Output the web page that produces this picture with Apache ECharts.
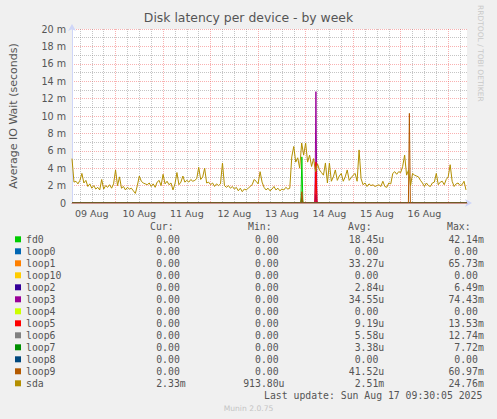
<!DOCTYPE html>
<html><head><meta charset="utf-8">
<script src="https://cdn.jsdelivr.net/npm/echarts@6/dist/echarts.min.js"></script>
<style>html,body{margin:0;padding:0;background:#f0f0f0;}#c{width:497px;height:419px;}</style>
</head><body><div id="c"></div>
<script>
// ---------- data ----------
const devices = ['fd0','loop0','loop1','loop10','loop2','loop3','loop4','loop5','loop6','loop7','loop8','loop9','sda'];
const deviceColors = ['#00CC00','#0066B3','#FF8000','#FFCC00','#330099','#990099','#CCFF00','#FF0000','#808080','#008F00','#00487D','#B35900','#B38F00'];
const curVals = ['0.00','0.00','0.00','0.00','0.00','0.00','0.00','0.00','0.00','0.00','0.00','0.00','2.33m'];
const minVals = ['0.00','0.00','0.00','0.00','0.00','0.00','0.00','0.00','0.00','0.00','0.00','0.00','913.80u'];
const avgVals = ['18.45u','0.00','33.27u','0.00','2.84u','34.55u','0.00','9.19u','5.58u','3.38u','0.00','41.52u','2.51m'];
const maxVals = ['42.14m','0.00','65.73m','0.00','6.49m','74.43m','0.00','13.53m','12.74m','7.72m','0.00','60.97m','24.76m'];

// x axis: hours relative to 10 Aug 00:00
const dayLabels = ['09 Aug','10 Aug','11 Aug','12 Aug','13 Aug','14 Aug','15 Aug','16 Aug'];
const dayLabelHours = [-12,12,36,60,84,108,132,156];
const midnightHours = [0,24,48,72,96,120,144,168];
const sixHourHours = [-18,-12,-6,6,12,18,30,36,42,54,60,66,78,84,90,102,108,114,126,132,138,150,156,162,174];
const yTickValues = [0,2,4,6,8,10,12,14,16,18,20];

// sda: hourly samples (milliseconds), starting at hour -22
const sdaStartHour = -22;
const sdaValues = [
 5.1,2.4,2.5,2.2,2.6,3.4,2.3,2.6,1.9,2.2,1.7,2.0,1.6,1.8,1.5,2.7,1.6,2.0,1.8,2.1,1.7,2.2,
 3.8,2.0,3.0,1.7,1.9,1.5,1.8,1.6,1.7,1.4,1.1,2.0,3.1,2.5,2.3,2.2,2.1,2.3,1.9,2.2,1.8,2.4,2.6,2.0,
 3.3,2.2,2.5,2.1,2.3,1.5,2.2,3.5,2.1,2.4,3.1,2.4,2.6,2.4,2.7,2.5,2.6,2.8,4.1,2.7,3.0,4.0,2.3,2.4,
 2.1,2.3,1.9,2.2,2.0,2.2,4.6,2.0,1.8,2.0,1.7,1.9,1.6,1.8,1.4,1.7,1.3,1.6,1.5,1.7,1.9,2.1,2.7,2.5,
 2.2,3.6,2.4,1.8,1.5,1.7,1.4,1.6,1.9,1.5,1.7,1.4,1.6,1.5,1.8,1.6,1.7,5.3,6.5,4.7,5.2,4.0,6.9,5.5,
 6.9,4.7,5.5,4.2,5.1,3.6,4.5,3.8,3.5,3.2,4.6,2.3,4.6,2.5,3.0,3.8,2.6,3.1,3.4,2.5,3.0,3.8,2.6,2.9,
 3.2,3.4,2.5,6.1,2.8,2.1,2.3,1.9,2.2,2.0,2.1,1.9,2.0,2.1,1.9,2.5,1.9,1.8,2.3,2.2,3.4,3.6,3.3,3.6,
 3.5,4.2,5.5,3.2,3.8,2.0,3.4,3.2,3.1,3.0,2.6,2.3,1.9,2.3,2.0,1.9,2.3,2.4,3.4,2.1,2.4,2.5,2.1,2.7,
 3.0,4.4,2.5,1.9,2.2,2.3,2.0,2.1,2.5,1.5
];

// other devices: hours and values (milliseconds)
const fd0Hours = [-22,93.6,94.1,94.6,177.5];     const fd0Values = [0,0,5.3,0,0];
const loop0Hours = [-22,177.5];                   const loop0Values = [0,0];
const loop1Hours = [-22,100.7,101.2,101.7,177.5]; const loop1Values = [0,0,4.0,0,0];
const loop10Hours = [-22,177.5];                  const loop10Values = [0,0];
const loop2Hours = [-22,100.7,101.2,101.7,177.5]; const loop2Values = [0,0,1.0,0,0];
const loop3Hours = [-22,100.7,101.2,101.7,177.5]; const loop3Values = [0,0,12.8,0,0];
const loop4Hours = [-22,177.5];                   const loop4Values = [0,0];
const loop5Hours = [-22,100.7,101.2,101.7,177.5]; const loop5Values = [0,0,4.7,0,0];
const loop6Hours = [-22,93.6,94.1,94.6,177.5];    const loop6Values = [0,0,0.9,0,0];
const loop7Hours = [-22,93.6,94.1,94.6,177.5];    const loop7Values = [0,0,0.6,0,0];
const loop8Hours = [-22,177.5];                   const loop8Values = [0,0];
const loop9Hours = [-22,93.6,94.1,94.6,147.9,148.4,148.9,177.5]; const loop9Values = [0,0,1.3,0,0,10.3,0,0];

// ---------- build ----------
const sdaHours = sdaValues.map((_, i) => sdaStartHour + i);
const seriesData = {
  fd0:[fd0Hours,fd0Values], loop0:[loop0Hours,loop0Values], loop1:[loop1Hours,loop1Values],
  loop10:[loop10Hours,loop10Values], loop2:[loop2Hours,loop2Values], loop3:[loop3Hours,loop3Values],
  loop4:[loop4Hours,loop4Values], loop5:[loop5Hours,loop5Values], loop6:[loop6Hours,loop6Values],
  loop7:[loop7Hours,loop7Values], loop8:[loop8Hours,loop8Values], loop9:[loop9Hours,loop9Values],
  sda:[sdaHours,sdaValues]
};
const XMIN = -22, XMAX = 177.5;
const MONO = 'DejaVu Sans Mono';
const SANS = 'DejaVu Sans';
const TXT = '#555555';
const FS = 9.8;
const NB = '\u00a0';

// monospace column: number + unit (or blank), padded on the left to a fixed width
function col(key, s) {
  const m = s.match(/^([\d.]+)([a-z]?)$/);
  let t = m[1] + (m[2] || NB);
  while (t.length < 8) t = NB + t;
  return '{' + key + '|' + t + '}';
}
const tok = (o) => Object.assign({fontFamily: MONO, fontSize: FS, color: TXT, lineHeight: 12, height: 12, align: 'left'}, o);

const chart = echarts.init(document.getElementById('c'), null, {renderer: 'svg'});
const redGrid = {color: 'rgba(240,70,70,0.42)', width: 1, type: [1, 1]};
const grayGrid = {color: 'rgba(140,140,140,0.5)', width: 1, type: [1, 1]};
const monoFont = FS + 'px "' + MONO + '"';

chart.setOption({
  animation: false,
  backgroundColor: '#f0f0f0',
  title: {
    text: 'Disk latency per device - by week',
    left: 'center', top: 11, padding: 0,
    textStyle: {fontFamily: SANS, fontSize: 12.4, fontWeight: 'normal', color: TXT}
  },
  grid: {left: 67, right: 30, top: 29, bottom: 216, show: true, backgroundColor: '#ffffff', borderWidth: 0},
  xAxis: [
    {
      type: 'value', min: XMIN, max: XMAX,
      axisLine: {show: true, onZero: false, lineStyle: {color: '#CFD6F8', width: 1}, symbol: ['none', 'arrow'], symbolSize: [6, 7], symbolOffset: [0, 5]},
      axisTick: {show: false, customValues: sixHourHours},
      splitLine: {show: true, lineStyle: grayGrid},
      axisLabel: {
        customValues: dayLabelHours, margin: 5,
        fontFamily: SANS, fontSize: 9.5, color: TXT,
        formatter: v => dayLabels[dayLabelHours.indexOf(v)]
      }
    },
    {
      type: 'value', min: XMIN, max: XMAX, position: 'bottom',
      axisLine: {show: false, onZero: false},
      axisTick: {show: false, customValues: midnightHours},
      axisLabel: {show: false},
      splitLine: {show: true, lineStyle: redGrid}
    },
    {
      type: 'value', min: XMIN, max: XMAX, position: 'bottom', z: 10,
      axisLine: {show: true, onZero: false, lineStyle: {color: '#c9958c', width: 1}},
      axisTick: {show: false}, axisLabel: {show: false}, splitLine: {show: false}
    }
  ],
  yAxis: {
    type: 'value', min: 0, max: 20, interval: 2,
    name: 'Average IO Wait (seconds)', nameLocation: 'middle', nameGap: 53,
    nameTextStyle: {fontFamily: SANS, fontSize: 11, color: TXT},
    axisLine: {show: true, onZero: false, lineStyle: {color: '#CFD6F8', width: 1}, symbol: ['none', 'arrow'], symbolSize: [6, 7], symbolOffset: [0, 5]},
    axisTick: {show: false},
    axisLabel: {
      margin: 6, fontFamily: SANS, fontSize: 9.6, color: TXT,
      formatter: v => (yTickValues.indexOf(v) >= 0 ? (v === 0 ? '0' : v + ' m') : '')
    },
    splitLine: {show: true, lineStyle: redGrid},
    minorTick: {show: false, splitNumber: 2},
    minorSplitLine: {show: true, lineStyle: grayGrid}
  },
  legend: {
    orient: 'vertical', left: 15, top: 233.3,
    itemWidth: 6, itemHeight: 6, itemGap: 0, icon: 'rect',
    selectedMode: false, padding: 0,
    data: devices,
    formatter: name => {
      const i = devices.indexOf(name);
      return '{n|' + name + '}' + col('c', curVals[i]) + col('mi', minVals[i]) + col('a', avgVals[i]) + col('mx', maxVals[i]);
    },
    textStyle: {
      fontFamily: MONO, fontSize: FS, color: TXT, lineHeight: 12,
      rich: {
        n: tok({width: 112.5}),
        c: tok({width: 98.8}),
        mi: tok({width: 99.7}),
        a: tok({width: 99.6}),
        mx: tok({width: 50})
      }
    }
  },
  graphic: [
    {type: 'text', left: 150, top: 221.5, style: {text: 'Cur:', font: monoFont, fill: TXT}},
    {type: 'text', left: 248, top: 221.5, style: {text: 'Min:', font: monoFont, fill: TXT}},
    {type: 'text', left: 348, top: 221.5, style: {text: 'Avg:', font: monoFont, fill: TXT}},
    {type: 'text', left: 447, top: 221.5, style: {text: 'Max:', font: monoFont, fill: TXT}},
    {type: 'text', right: 14.7, top: 390, style: {text: 'Last update: Sun Aug 17 09:30:05 2025', font: monoFont, fill: TXT}},
    {type: 'text', left: 'center', top: 404, style: {text: 'Munin 2.0.75', font: '7.6px "' + SANS + '"', fill: '#c4c4c4'}},
    {type: 'text', x: 484, y: 5, rotation: -Math.PI / 2, style: {text: 'RRDTOOL / TOBI OETIKER', font: '7.5px "' + SANS + '"', fill: '#c8c8c8'}}
  ],
  series: devices.map((d, k) => ({
    name: d, type: 'line', color: deviceColors[k],
    showSymbol: false, symbol: 'none', z: 2 + k * 0.01,
    lineStyle: {width: 1, color: deviceColors[k]},
    data: seriesData[d][0].map((h, i) => [h, seriesData[d][1][i]])
  }))
});
</script></body></html>
